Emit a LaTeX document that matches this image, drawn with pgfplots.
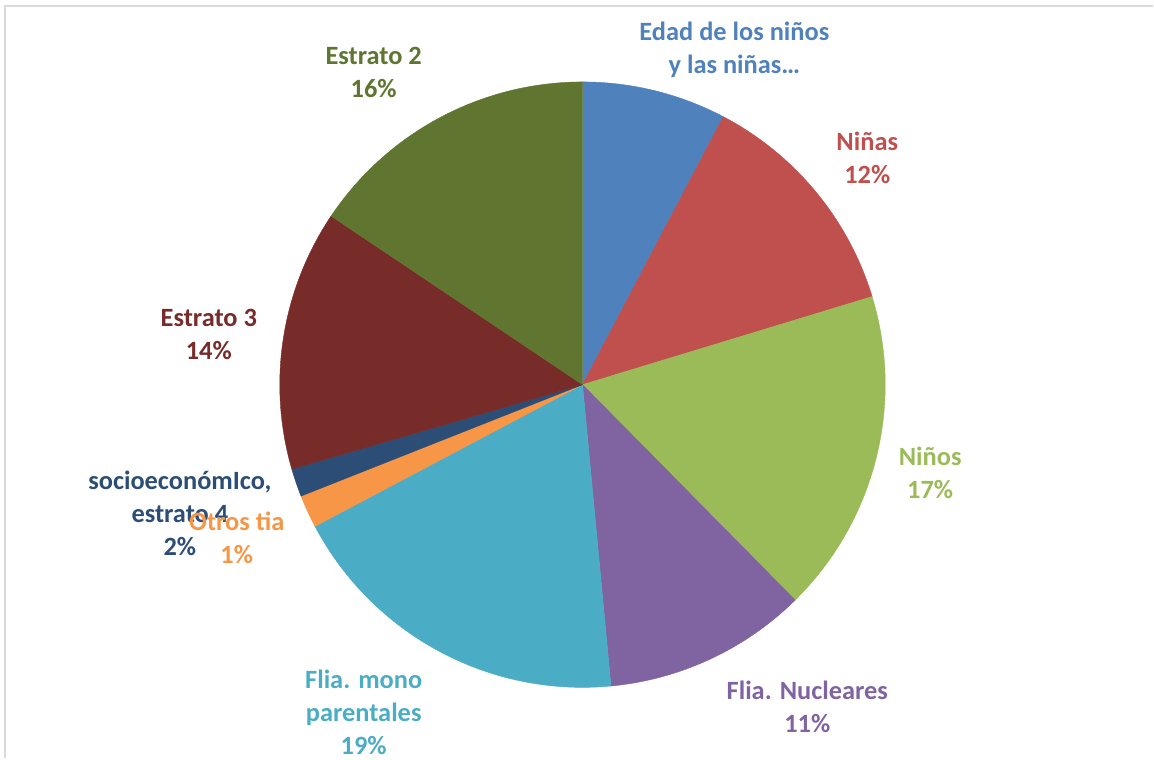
\documentclass[border=0pt]{standalone}
\usepackage{fontspec}
\setmainfont{Carlito}
\usepackage{pgfplots}
\usepackage{pgfplotstable}
\pgfplotsset{compat=1.18}
\definecolor{cA}{HTML}{4F81BD}
\definecolor{cB}{HTML}{C0504D}
\definecolor{cC}{HTML}{9BBB59}
\definecolor{cD}{HTML}{8064A2}
\definecolor{cE}{HTML}{4BACC6}
\definecolor{cF}{HTML}{F79646}
\definecolor{cG}{HTML}{2C4D75}
\definecolor{cH}{HTML}{772C2A}
\definecolor{cI}{HTML}{5F7530}
\definecolor{frame}{HTML}{D9D9D9}
\pgfplotstableread{
value color
7.7 cA
12.6 cB
17.3 cC
10.9 cD
18.75 cE
1.75 cF
1.5 cG
13.9 cH
15.6 cI
}\piedata
\begin{document}
\begin{tikzpicture}
\begin{axis}[
  x=0.5pt, y=0.5pt,
  xmin=0, xmax=1154, ymin=0, ymax=759,
  hide axis, clip=false,
  scale only axis,
]
\path (axis cs:0,0) rectangle (axis cs:1154,759);
\draw[frame, line width=1pt] (axis cs:5,0) -- (axis cs:5,753) -- (axis cs:1154,753);
\xdef\angstart{90}
\pgfplotsinvokeforeach{0,...,8}{
  \pgfplotstablegetelem{#1}{value}\of\piedata
  \pgfmathsetmacro\angend{\angstart-3.6*\pgfplotsretval}
  \pgfplotstablegetelem{#1}{color}\of\piedata
  \edef\temp{\noexpand\fill[\pgfplotsretval, draw=\pgfplotsretval, line width=0.2pt] (axis cs:583,374) -- ++(\angstart:151.5pt) arc[start angle=\angstart, end angle=\angend, radius=151.5pt] -- cycle;}
  \temp
  \xdef\angstart{\angend}
}
\tikzset{lab/.style={align=center, font=\fontsize{13.2pt}{16.5pt}\selectfont\bfseries, inner sep=0pt}}
\node[lab, text=cA] at (axis cs:735,709) {Edad de los niños\\y las niñas…};
\node[lab, text=cI] at (axis cs:374,686) {Estrato 2\\16\%};
\node[lab, text=cB] at (axis cs:868,601) {Niñas\\12\%};
\node[lab, text=cH] at (axis cs:209,424) {Estrato 3\\14\%};
\node[lab, text=cC] at (axis cs:931,286) {Niños\\17\%};
\node[lab, text=cG] at (axis cs:180,245) {socioeconómIco,\\estrato 4\\2\%};
\node[lab, text=cF] at (axis cs:237,221) {Otros tia\\1\%};
\node[lab, text=cD] at (axis cs:808,52) {Flia. Nucleares\\11\%};
\node[lab, text=cE] at (axis cs:364,46) {Flia. mono\\parentales\\19\%};
\end{axis}
\end{tikzpicture}
\end{document}
